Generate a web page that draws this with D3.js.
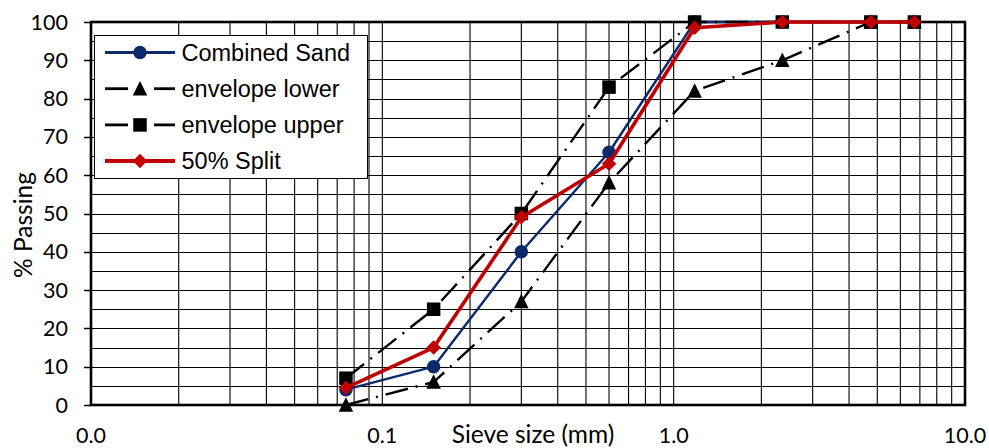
<!DOCTYPE html>
<html>
<head>
<meta charset="utf-8">
<script src="https://cdn.jsdelivr.net/npm/d3@7"></script>
<style>
  body { margin: 0; background: #fff; }
  svg { display: block; }
</style>
</head>
<body>
<div id="chart"></div>
<script>
// Sieve analysis — % passing vs sieve size (log x)
const sieveSizes    = [0.075, 0.15, 0.3, 0.6, 1.18, 2.36, 4.75, 6.7];
const combinedSand  = [4, 10, 40, 66, 100, 100, 100, 100];
const envelopeLower = [0, 6, 27, 58, 82, 90, 100, 100];
const envelopeUpper = [7, 25, 50, 83, 100, 100, 100, 100];
const split50       = [4.5, 15, 49, 63, 98.5, 100, 100, 100];

const xTicks = [0.01, 0.1, 1, 10];
const yTicks = d3.range(0, 101, 10);
const yGrid = d3.range(0, 101, 5);

const series = [
  { name: 'Combined Sand', values: combinedSand, color: '#0c2a6a', width: 2.4, dash: null, marker: 'circle' },
  { name: 'envelope lower', values: envelopeLower, color: '#000', width: 2.4, dash: '23,8,2,8', marker: 'triangle' },
  { name: 'envelope upper', values: envelopeUpper, color: '#000', width: 2.4, dash: '23,8,2,8', marker: 'square' },
  { name: '50% Split', values: split50, color: '#c00000', width: 3.6, dash: null, marker: 'diamond' },
];

const W = 989, H = 448;
const M = { left: 91, right: 24, top: 22, bottom: 43 };
const CAL = 'Lato, Carlito, sans-serif';

const svg = d3.select('#chart').append('svg')
  .attr('width', W).attr('height', H);

const x = d3.scaleLog().domain([0.01, 10]).range([M.left, W - M.right]);
const y = d3.scaleLinear().domain([0, 100]).range([H - M.bottom, M.top]);

// grid
const vGrid = [];
[0.01, 0.1, 1].forEach(b => { for (let k = 1; k <= 9; k++) vGrid.push(b * k); });
vGrid.push(10);

svg.append('g').selectAll('line').data(vGrid).join('line')
  .attr('x1', d => x(d)).attr('x2', d => x(d))
  .attr('y1', y(0)).attr('y2', y(100))
  .attr('stroke', '#000').attr('stroke-width', 1.1);

svg.append('g').selectAll('line').data(yGrid).join('line')
  .attr('x1', x(0.01)).attr('x2', x(10))
  .attr('y1', d => Math.round(y(d)) + 0.5).attr('y2', d => Math.round(y(d)) + 0.5)
  .attr('stroke', '#000').attr('stroke-width', 1);

// y axis ticks + labels
const yAxis = svg.append('g');
yAxis.selectAll('line').data(yTicks).join('line')
  .attr('x1', M.left - 7).attr('x2', M.left)
  .attr('y1', d => Math.round(y(d)) + 0.5).attr('y2', d => Math.round(y(d)) + 0.5)
  .attr('stroke', '#000').attr('stroke-width', 1.5);
yAxis.selectAll('text').data(yTicks).join('text')
  .attr('x', 68).attr('y', d => y(d) + 7.5)
  .attr('text-anchor', 'end')
  .attr('font-family', CAL)
  .attr('font-size', 21.5).attr('fill', '#000')
  .text(d => d);

// x labels
svg.append('g').selectAll('text').data(xTicks).join('text')
  .attr('x', d => x(d)).attr('y', 443)
  .attr('text-anchor', 'middle')
  .attr('font-family', CAL)
  .attr('font-size', 21.5).attr('fill', '#000')
  .text(d => d3.format('.1f')(d));

svg.append('text')
  .attr('x', 533).attr('y', 443)
  .attr('text-anchor', 'middle')
  .attr('font-family', CAL)
  .attr('font-size', 24.5).attr('fill', '#000')
  .text('Sieve size (mm)');

svg.append('text')
  .attr('transform', 'translate(32,225) rotate(-90)')
  .attr('text-anchor', 'middle')
  .attr('font-family', CAL)
  .attr('font-size', 24.5).attr('fill', '#000')
  .text('% Passing');

// plot border
svg.append('rect')
  .attr('x', x(0.01)).attr('y', y(100))
  .attr('width', x(10) - x(0.01)).attr('height', y(0) - y(100))
  .attr('fill', 'none').attr('stroke', '#000').attr('stroke-width', 2.6);

// markers
function drawMarker(g, type, color, size) {
  const s = size;
  if (type === 'circle') g.append('circle').attr('r', s / 2).attr('fill', color);
  else if (type === 'square') g.append('rect').attr('x', -s / 2).attr('y', -s / 2).attr('width', s).attr('height', s).attr('fill', color);
  else if (type === 'triangle') g.append('path').attr('d', `M0,${-s / 2 - 1}L${s / 2 + 0.5},${s / 2}L${-s / 2 - 0.5},${s / 2}Z`).attr('fill', color);
  else if (type === 'diamond') g.append('path').attr('d', `M0,${-s / 2 - 0.5}L${s / 2 + 0.5},0L0,${s / 2 + 0.5}L${-s / 2 - 0.5},0Z`).attr('fill', color);
}

const line = d3.line().x(d => x(d[0])).y(d => y(d[1]));

series.forEach(s => {
  const pts = sieveSizes.map((v, i) => [v, s.values[i]]);
  const g = svg.append('g');
  g.append('path')
    .attr('d', line(pts))
    .attr('fill', 'none')
    .attr('stroke', s.color)
    .attr('stroke-width', s.width)
    .attr('stroke-dasharray', s.dash)
    .attr('stroke-linejoin', 'round');
  pts.forEach(p => {
    const mg = g.append('g').attr('transform', `translate(${x(p[0])},${y(p[1])})`);
    drawMarker(mg, s.marker, s.color, 13.5);
  });
});

// legend
const lg = svg.append('g').attr('transform', 'translate(94,35)');
lg.append('rect')
  .attr('x', 0.5).attr('y', 0.5).attr('width', 273).attr('height', 143)
  .attr('fill', '#fff').attr('stroke', '#000').attr('stroke-width', 1);

series.forEach((s, i) => {
  const cy = 17.5 + i * 36.2;
  const row = lg.append('g').attr('transform', `translate(0,${cy})`);
  if (s.dash) {
    row.append('line').attr('x1', 11).attr('x2', 34).attr('y1', 0).attr('y2', 0)
      .attr('stroke', s.color).attr('stroke-width', s.width + 0.4);
    row.append('line').attr('x1', 60).attr('x2', 81).attr('y1', 0).attr('y2', 0)
      .attr('stroke', s.color).attr('stroke-width', s.width + 0.4);
  } else {
    row.append('line').attr('x1', 11).attr('x2', 81).attr('y1', 0).attr('y2', 0)
      .attr('stroke', s.color).attr('stroke-width', s.width + 0.4);
  }
  const mg = row.append('g').attr('transform', 'translate(46,0)');
  drawMarker(mg, s.marker, s.color, 13.5);
  row.append('text')
    .attr('x', 87.5).attr('y', 8)
    .attr('font-family', 'Liberation Sans, Arial, sans-serif')
    .attr('font-size', 23.5).attr('fill', '#000')
    .text(s.name);
});
</script>
</body>
</html>
